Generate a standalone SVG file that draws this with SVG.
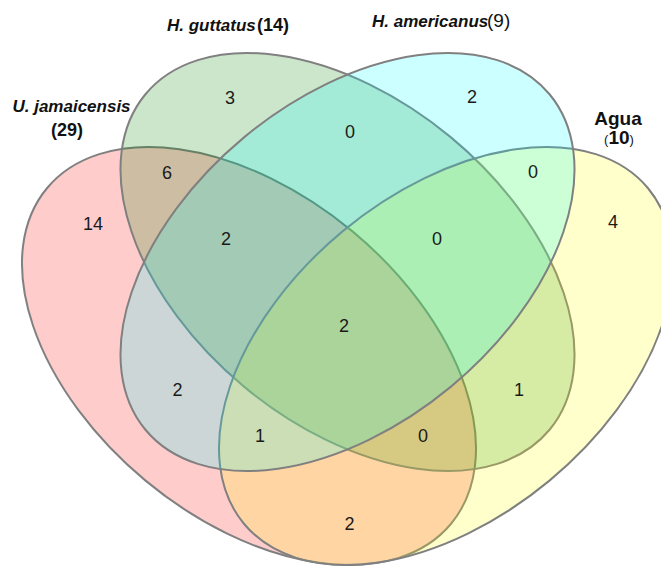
<svg xmlns="http://www.w3.org/2000/svg" width="661" height="568" viewBox="0 0 661 568">
<style>
.set{fill-opacity:0.2;stroke:#808080;stroke-width:2}
.lbl{font-family:"Liberation Sans",Arial,sans-serif;font-weight:bold;fill:#111}
.it{font-style:italic;font-size:17px}
.cnt{font-family:"Liberation Sans",Arial,sans-serif;font-size:18px;fill:#1a1a1a;text-anchor:middle}
</style>
<rect width="661" height="568" fill="#ffffff"/>
<g id="set-ujamaicensis">
<ellipse class="set" fill="#ff0000" cx="249" cy="356" rx="262.6" ry="162" transform="rotate(39.7 249 356)"/>
</g>
<g id="set-hguttatus">
<ellipse class="set" fill="#008000" cx="347.5" cy="262" rx="262.6" ry="162" transform="rotate(39.7 347.5 262)"/>
</g>
<g id="set-agua">
<ellipse class="set" fill="#ffff00" cx="446" cy="356" rx="262.6" ry="162" transform="rotate(-39.7 446 356)"/>
</g>
<g id="set-hamericanus">
<ellipse class="set" fill="#00ffff" cx="347.5" cy="262" rx="262.6" ry="162" transform="rotate(-39.7 347.5 262)"/>
</g>
<g id="set-labels">
<text class="lbl" x="167" y="31"><tspan class="it">H. guttatus</tspan><tspan x="257" font-size="18">(14)</tspan></text>
<text class="lbl" x="372" y="27"><tspan class="it">H. americanus</tspan><tspan x="487" font-size="19" font-weight="normal">(9)</tspan></text>
<text class="lbl" x="71.5" y="112" text-anchor="middle"><tspan class="it">U. jamaicensis</tspan></text>
<text class="lbl" x="67" y="136" text-anchor="middle" font-size="18">(29)</text>
<text class="lbl" x="618" y="125" text-anchor="middle" font-size="19">Agua</text>
<text class="lbl" x="619" y="144" text-anchor="middle"><tspan font-size="13" font-weight="normal">(</tspan><tspan font-size="19">10</tspan><tspan font-size="13" font-weight="normal">)</tspan></text>
</g>
<g id="counts">
<text class="cnt" x="230" y="104">3</text>
<text class="cnt" x="472" y="103">2</text>
<text class="cnt" x="350" y="138">0</text>
<text class="cnt" x="167" y="179">6</text>
<text class="cnt" x="533" y="178">0</text>
<text class="cnt" x="93" y="230">14</text>
<text class="cnt" x="226" y="245">2</text>
<text class="cnt" x="437" y="245">0</text>
<text class="cnt" x="613" y="228">4</text>
<text class="cnt" x="344" y="332">2</text>
<text class="cnt" x="177.5" y="396">2</text>
<text class="cnt" x="519" y="396">1</text>
<text class="cnt" x="260" y="442">1</text>
<text class="cnt" x="423" y="442">0</text>
<text class="cnt" x="349.5" y="530">2</text>
</g>
</svg>
